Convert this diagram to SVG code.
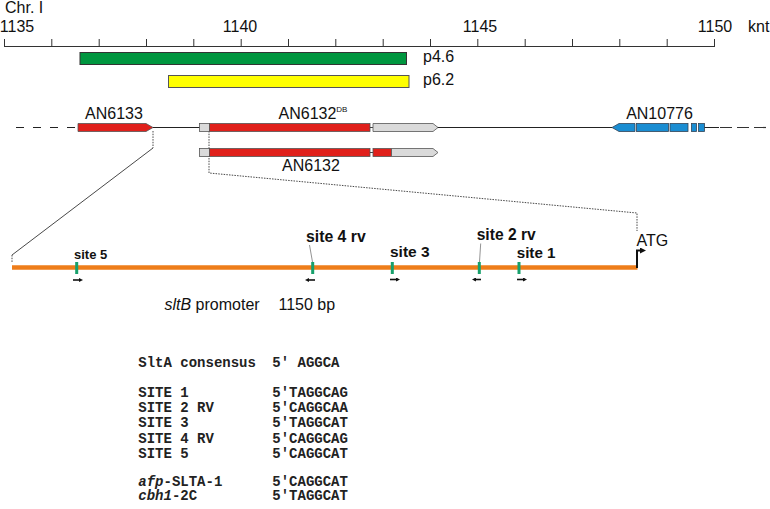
<svg xmlns="http://www.w3.org/2000/svg" width="770" height="509" viewBox="0 0 770 509">
<style>
.t{font-family:"Liberation Sans",Arial,sans-serif;font-size:16px;fill:#111}
.b{font-family:"Liberation Sans",Arial,sans-serif;font-weight:bold;fill:#111}
.m{font-family:"Liberation Mono","Courier New",monospace;font-weight:bold;font-size:14px;fill:#222}
.ax{stroke:#333;stroke-width:1;fill:none}
.red{fill:#e0201b;stroke:#555;stroke-width:0.8}
.gry{fill:#dadada;stroke:#555;stroke-width:0.8}
.blu{fill:#1a8dd2;stroke:#345;stroke-width:0.8}
.site{fill:#17a06c}
.sa{stroke:#111;stroke-width:1.6;fill:none;marker-end:url(#ah)}
.dot{stroke:#333;stroke-width:0.9;stroke-dasharray:1.5,1.2;fill:none}
.thin{stroke:#333;stroke-width:0.9;fill:none}
.lead{stroke:#777;stroke-width:0.8;fill:none}
</style>
<defs>
<marker id="ah" markerWidth="4" markerHeight="4" refX="2" refY="2" orient="auto" markerUnits="userSpaceOnUse"><path d="M0,0 L4,2 L0,4 z" fill="#111"/></marker>
<marker id="ah2" markerWidth="6" markerHeight="6" refX="3" refY="3" orient="auto" markerUnits="userSpaceOnUse"><path d="M0,0 L6,3 L0,6 z" fill="#111"/></marker>
</defs>
<rect width="770" height="509" fill="#fff"/>

<g id="axis">
<text class="t" x="5" y="12.5">Chr. I</text>
<text class="t" x="17" y="32" text-anchor="middle">1135</text>
<text class="t" x="240" y="32" text-anchor="middle">1140</text>
<text class="t" x="480" y="32" text-anchor="middle">1145</text>
<text class="t" x="715" y="32" text-anchor="middle">1150</text>
<text class="t" x="748" y="32">knt</text>
<path class="ax" d="M4,46.5 H714.5 M4.5,39 V47 M51.8,39 V47 M99.2,39 V47 M146.5,39 V47 M193.8,39 V47 M241.2,39 V47 M288.5,39 V47 M335.8,39 V47 M383.2,39 V47 M430.5,39 V47 M477.8,39 V47 M525.2,39 V47 M572.5,39 V47 M619.8,39 V47 M667.2,39 V47 M714.5,39 V47"/>
</g>

<g id="p4.6">
<rect x="80" y="52.5" width="326.5" height="12" fill="#00963f" stroke="#333" stroke-width="1"/>
<text class="t" x="423" y="62">p4.6</text>
</g>
<g id="p6.2">
<rect x="168.5" y="75.5" width="240.5" height="12" fill="#ffff00" stroke="#555" stroke-width="1"/>
<text class="t" x="423" y="84.5">p6.2</text>
</g>

<g id="connectors">
<path d="M16,127.5 H77" stroke="#222" stroke-width="1.2" stroke-dasharray="8,9" fill="none"/>
<path d="M153,127.5 H200 M433,127.5 H612 M704,127.5 H719" stroke="#222" stroke-width="1.2" fill="none"/>
<path d="M720,127.5 H768" stroke="#333" stroke-width="1.2" stroke-dasharray="12,5" fill="none"/>
<path class="dot" d="M153,131 V148 M12,255 V263"/>
<path class="thin" d="M153,148 L12,255"/>
<path class="dot" d="M209,131 V173 L637,213 V231"/>
<path class="lead" d="M309.5,245 L312.5,262 M480.7,243.5 L479.5,262"/>
</g>

<g id="AN6133">
<text class="t" x="114" y="119" text-anchor="middle">AN6133</text>
<path class="red" d="M78,123.5 H146 L153,127.5 L146,131.5 H78 Z"/>
</g>

<g id="AN6132DB">
<text class="t" x="313" y="119" text-anchor="middle">AN6132<tspan font-size="8" dy="-7">DB</tspan></text>
<rect class="gry" x="199.5" y="123.5" width="10" height="8"/>
<rect class="red" x="209.5" y="123.5" width="160.5" height="8"/>
<path d="M370,127.5 H373" stroke="#444" stroke-width="1"/>
<path class="gry" d="M373,123.5 H433 L438,127.5 L433,131.5 H373 Z"/>
</g>

<g id="AN6132">
<rect class="gry" x="199.5" y="148.5" width="10" height="8"/>
<rect class="red" x="209.5" y="148.5" width="160.5" height="8"/>
<path d="M370,152.5 H373" stroke="#444" stroke-width="1"/>
<rect class="red" x="373" y="148.5" width="18.5" height="8"/>
<path class="gry" d="M391.5,148.5 H433 L438,152.5 L433,156.5 H391.5 Z"/>
<text class="t" x="311" y="171" text-anchor="middle">AN6132</text>
</g>

<g id="AN10776">
<text class="t" x="659.5" y="119" text-anchor="middle">AN10776</text>
<path class="blu" d="M612,127.5 L619,123.5 H635 V131.5 H619 Z"/>
<rect class="blu" x="636.5" y="123.5" width="32" height="8"/>
<rect class="blu" x="670" y="123.5" width="18" height="8"/>
<rect class="blu" x="691.5" y="123.5" width="5" height="8"/>
<rect class="blu" x="698.5" y="123.5" width="6" height="8"/>
</g>

<g id="promoter">
<path d="M12,267.5 H637.5" stroke="#ee7d1a" stroke-width="4.5" fill="none"/>
<path d="M637,268 V250.5 H643" stroke="#111" stroke-width="2" fill="none" marker-end="url(#ah2)"/>
<text class="t" x="636.5" y="245.5">ATG</text>
<text class="t" x="164.5" y="309.5"><tspan font-style="italic">sltB</tspan> promoter</text>
<text class="t" x="278.5" y="309.5">1150 bp</text>
</g>

<g id="site5">
<rect class="site" x="75.2" y="262" width="3" height="12"/>
<text class="b" x="74" y="259" font-size="13">site 5</text>
<path class="sa" d="M73,280 H81"/>
</g>
<g id="site4rv">
<rect class="site" x="311.2" y="262" width="3" height="12"/>
<text class="b" x="306" y="241.7" font-size="15.8">site 4 rv</text>
<path class="sa" d="M315,280 H307"/>
</g>
<g id="site3">
<rect class="site" x="390.8" y="262" width="3" height="12"/>
<text class="b" x="390" y="256.7" font-size="15.5">site 3</text>
<path class="sa" d="M390,279.5 H398"/>
</g>
<g id="site2rv">
<rect class="site" x="477.8" y="262" width="3" height="12"/>
<text class="b" x="476.7" y="240" font-size="15.6">site 2 rv</text>
<path class="sa" d="M481,279.5 H474"/>
</g>
<g id="site1">
<rect class="site" x="517.5" y="262" width="3" height="12"/>
<text class="b" x="516.7" y="258.3" font-size="15.2">site 1</text>
<path class="sa" d="M517,279.5 H525"/>
</g>

<g id="table">
<text class="m" x="138.3" y="366.7">SltA consensus<tspan x="272.3">5' AGGCA</tspan></text>
<text class="m" x="138.3" y="396.7">SITE 1<tspan x="272.3">5'TAGGCAG</tspan></text>
<text class="m" x="138.3" y="411.9">SITE 2 RV<tspan x="272.3">5'CAGGCAA</tspan></text>
<text class="m" x="138.3" y="427.2">SITE 3<tspan x="272.3">5'TAGGCAT</tspan></text>
<text class="m" x="138.3" y="442.5">SITE 4 RV<tspan x="272.3">5'CAGGCAG</tspan></text>
<text class="m" x="138.3" y="457.8">SITE 5<tspan x="272.3">5'CAGGCAT</tspan></text>
<text class="m" x="138.3" y="485.7"><tspan font-style="italic">afp</tspan>-SLTA-1<tspan x="272.3">5'CAGGCAT</tspan></text>
<text class="m" x="138.3" y="500.3"><tspan font-style="italic">cbh1</tspan>-2C<tspan x="272.3">5'TAGGCAT</tspan></text>
</g>
</svg>
